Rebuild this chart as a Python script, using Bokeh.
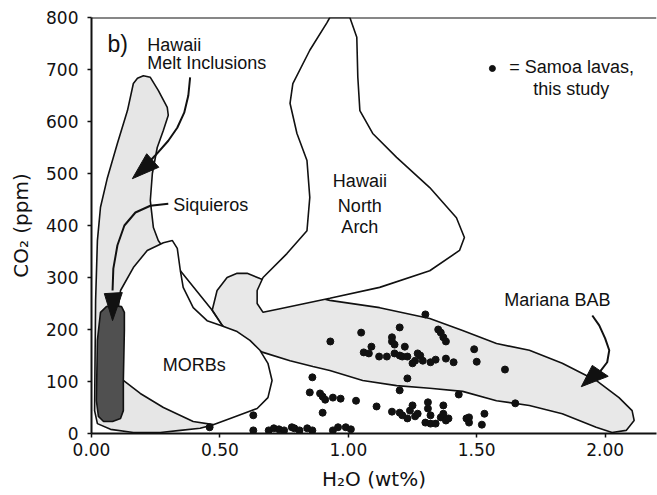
from bokeh.plotting import figure
from bokeh.models import Range1d, FixedTicker, Span
from bokeh.core.properties import value
from bokeh.embed import file_html
from bokeh.resources import INLINE

# ---------------- data ----------------
x_ticks = [0.0, 0.5, 1.0, 1.5, 2.0]
x_tick_labels = ["0.00", "0.50", "1.00", "1.50", "2.00"]
y_ticks = [0, 100, 200, 300, 400, 500, 600, 700, 800]

# Samoa lavas (this study)
samoa_h2o = [1.30, 1.05, 1.20, 0.93, 1.35, 1.36, 1.37, 1.38, 1.17, 1.17, 1.18, 1.09, 1.22,
             1.06, 1.08, 1.12, 1.15, 1.18, 1.20, 1.21, 1.23, 1.27, 1.28, 1.26, 1.25, 1.29,
             1.32, 1.34, 1.38, 1.41, 1.49, 1.50, 1.61, 1.23,
             0.86, 0.85, 0.89, 0.90, 0.91, 0.94, 0.97, 0.90, 1.03, 0.63, 0.46,
             1.20, 1.43, 1.65, 1.11, 1.17, 1.20, 1.21, 1.23, 1.24, 1.25, 1.26, 1.27, 1.31,
             1.31, 1.32, 1.30, 1.32, 1.34, 1.36, 1.37, 1.37, 1.38, 1.39, 1.46, 1.47, 1.47,
             1.53, 1.52,
             0.63, 0.69, 0.71, 0.73, 0.75, 0.78, 0.79, 0.81, 0.84, 0.86, 0.94, 0.96, 0.99, 1.01]
samoa_co2 = [229, 194, 204, 177, 200, 194, 185, 177, 185, 177, 171, 167, 167,
             156, 154, 148, 148, 154, 150, 148, 148, 154, 150, 140, 135, 140,
             137, 142, 144, 137, 162, 138, 123, 106,
             108, 79, 77, 71, 65, 69, 67, 40, 63, 35, 12,
             83, 75, 58, 52, 42, 40, 35, 29, 44, 54, 33, 38, 60,
             48, 35, 21, 19, 19, 31, 54, 38, 25, 29, 29, 31, 21,
             38, 17,
             6, 6, 10, 8, 6, 12, 10, 6, 10, 6, 6, 12, 12, 8]

# Field outlines (H2O wt%, CO2 ppm)
mi_h2o = [0.179, 0.202, 0.229, 0.260, 0.295, 0.299, 0.280, 0.256, 0.237, 0.229, 0.241, 0.260,
          0.287, 0.346, 0.423, 0.474, 0.423, 0.346, 0.268, 0.163, 0.074, 0.023, 0.012, 0.016,
          0.023, 0.035, 0.062, 0.101, 0.140, 0.163]
mi_co2 = [683, 688, 685, 660, 627, 612, 583, 550, 500, 448, 396, 371,
          352, 256, 102, 17, 10, 6, 2, 2, 8, 19, 44, 256,
          371, 435, 492, 558, 621, 673]

bab_h2o = [0.509, 0.470, 0.489, 0.528, 0.567, 0.606, 0.656, 0.773, 0.928, 1.122, 1.317, 1.445,
           1.577, 1.705, 1.833, 1.965, 2.054, 2.105, 2.113, 2.082, 2.027, 1.965, 1.833, 1.705,
           1.577, 1.445, 1.317, 1.188, 1.056, 0.928, 0.862, 0.773, 0.668, 0.579]
bab_co2 = [208, 237, 275, 300, 308, 308, 298, 275, 256, 242, 221, 198,
           173, 160, 135, 102, 69, 44, 25, 6, 2, 12, 38, 54,
           63, 81, 87, 92, 102, 121, 129, 140, 156, 179]

morb_h2o = [0.113, 0.163, 0.217, 0.280, 0.315, 0.334, 0.346, 0.357, 0.396, 0.450, 0.501, 0.567,
            0.617, 0.656, 0.687, 0.703, 0.687, 0.645, 0.540, 0.474, 0.396, 0.280, 0.190, 0.124,
            0.093]
morb_co2 = [275, 319, 352, 367, 371, 356, 313, 281, 242, 217, 208, 196,
            179, 160, 135, 102, 69, 48, 29, 17, 23, 50, 77, 102,
            198]
morb_edge_h2o = [0.346, 0.470, 0.509]
morb_edge_co2 = [313, 237, 208]

na_h2o = [0.928, 1.006, 1.033, 1.037, 1.045, 1.095, 1.188, 1.317, 1.421, 1.452, 1.433, 1.317,
          1.122, 0.928, 0.734, 0.668, 0.645, 0.645, 0.668, 0.761, 0.839, 0.850, 0.839, 0.800,
          0.773, 0.784, 0.850, 0.917]
na_co2 = [800, 800, 762, 685, 621, 577, 531, 473, 415, 377, 352, 313,
          281, 260, 240, 233, 250, 275, 300, 346, 390, 454, 525, 577,
          635, 673, 737, 790]

siq_h2o = [0.035, 0.058, 0.085, 0.117, 0.128, 0.128, 0.124, 0.124, 0.113, 0.082, 0.047, 0.027,
           0.019, 0.023]
siq_co2 = [233, 244, 246, 244, 233, 198, 102, 44, 29, 23, 23, 33,
           63, 179]

# Arrows
mi_arrow_h2o = [0.384, 0.377, 0.361, 0.334, 0.299, 0.249, 0.210]
mi_arrow_co2 = [685, 650, 617, 588, 563, 535, 515]
mi_head_h2o = [0.159, 0.215, 0.262]
mi_head_co2 = [490, 538, 512]

siq_arrow_h2o = [0.299, 0.229, 0.171, 0.128, 0.101, 0.085, 0.082]
siq_arrow_co2 = [442, 438, 425, 400, 362, 317, 275]
siq_head_h2o = [0.082, 0.050, 0.120]
siq_head_co2 = [217, 269, 271]

bab_arrow_h2o = [1.950, 1.977, 2.000, 2.016, 2.008, 1.977, 1.946]
bab_arrow_co2 = [227, 208, 183, 160, 137, 117, 104]
bab_head_h2o = [1.907, 1.950, 2.012]
bab_head_co2 = [90, 131, 110]

# Labels
label_text = ["Hawaii", "Melt Inclusions", "Siquieros", "MORBs", "Mariana BAB"]
label_h2o = [0.217, 0.217, 0.318, 0.400, 1.814]
label_co2 = [748, 712, 440, 131, 256]
na_label_text = ["Hawaii", "North", "Arch"]
na_label_h2o = [1.045, 1.045, 1.045]
na_label_co2 = [485, 438, 398]

# ---------------- figure ----------------
p = figure(width=657, height=495, x_range=Range1d(0, 2.2), y_range=Range1d(0, 800),
           output_backend="svg", toolbar_location=None,
           min_border_left=91, min_border_right=1, min_border_top=17, min_border_bottom=62)
p.grid.visible = False
p.outline_line_color = None
p.background_fill_color = "white"
p.border_fill_color = "white"

outline = dict(line_color="#111111", line_width=1.6)
p.patch(mi_h2o, mi_co2, fill_color="#e6e6e6", **outline)
p.patch(bab_h2o, bab_co2, fill_color="#e8e8e8", **outline)
p.patch(morb_h2o, morb_co2, fill_color="white", **outline)
p.line(morb_edge_h2o, morb_edge_co2, **outline)
p.patch(na_h2o, na_co2, fill_color="white", **outline)
p.patch(siq_h2o, siq_co2, fill_color="#505050", **outline)

for ax, ay, hx, hy in [(mi_arrow_h2o, mi_arrow_co2, mi_head_h2o, mi_head_co2),
                       (siq_arrow_h2o, siq_arrow_co2, siq_head_h2o, siq_head_co2),
                       (bab_arrow_h2o, bab_arrow_co2, bab_head_h2o, bab_head_co2)]:
    p.line(ax, ay, line_color="#111111", line_width=2)
    p.patch(hx, hy, fill_color="#111111", line_color="#111111", line_width=1)

p.scatter(samoa_h2o, samoa_co2, size=7, fill_color="#111111", line_color="#111111")

# legend note
p.scatter([1.561], [702], size=6, fill_color="#111111", line_color="#111111")
p.text([1.627], [704], text=["= Samoa lavas,"], text_font=value("Liberation Sans"),
       text_font_size=value("18px"), text_align="left", text_baseline="middle", text_color="#111111")
p.text([1.868], [663], text=["this study"], text_font=value("Liberation Sans"),
       text_font_size=value("18px"), text_align="center", text_baseline="middle", text_color="#111111")

p.text([0.062], [750], text=["b)"], text_font=value("Liberation Sans"),
       text_font_size=value("23px"), text_align="left", text_baseline="middle", text_color="#111111")

p.text(label_h2o[:3], label_co2[:3], text=label_text[:3], text_font=value("Liberation Sans"),
       text_font_size=value("18px"), text_align="left", text_baseline="middle", text_color="#111111")
p.text(label_h2o[3:], label_co2[3:], text=label_text[3:], text_font=value("Liberation Sans"),
       text_font_size=value("18px"), text_align="center", text_baseline="middle", text_color="#111111")
p.text(na_label_h2o, na_label_co2, text=na_label_text, text_font=value("Liberation Sans"),
       text_font_size=value("18px"), text_align="center", text_baseline="middle", text_color="#111111")

# top frame line
p.add_layout(Span(location=800, dimension="width", line_color="#111111", line_width=2))

# axes
p.xaxis.ticker = FixedTicker(ticks=x_ticks)
p.xaxis.major_label_overrides = {t: l for t, l in zip(x_ticks, x_tick_labels)}
p.yaxis.ticker = FixedTicker(ticks=y_ticks)
for ax in (p.xaxis, p.yaxis):
    ax.axis_line_width = 2
    ax.axis_line_color = "#111111"
    ax.major_tick_line_color = "#111111"
    ax.major_tick_line_width = 1.5
    ax.major_tick_out = 4
    ax.major_tick_in = 0
    ax.minor_tick_line_color = None
    ax.major_label_text_font = "DejaVu Sans"
    ax.major_label_text_font_size = "17px"
    ax.major_label_text_color = "#111111"
    ax.axis_label_text_font = "DejaVu Sans"
    ax.axis_label_text_font_size = "20px"
    ax.axis_label_text_font_style = "normal"
    ax.axis_label_text_color = "#111111"
p.xaxis.axis_label = "H₂O (wt%)"
p.yaxis.axis_label = "CO₂ (ppm)"
p.xaxis.major_label_standoff = 5
p.yaxis.major_label_standoff = 9
p.xaxis.axis_label_standoff = 8
p.yaxis.axis_label_standoff = 10

open("out.html", "w").write(file_html(p, INLINE))
